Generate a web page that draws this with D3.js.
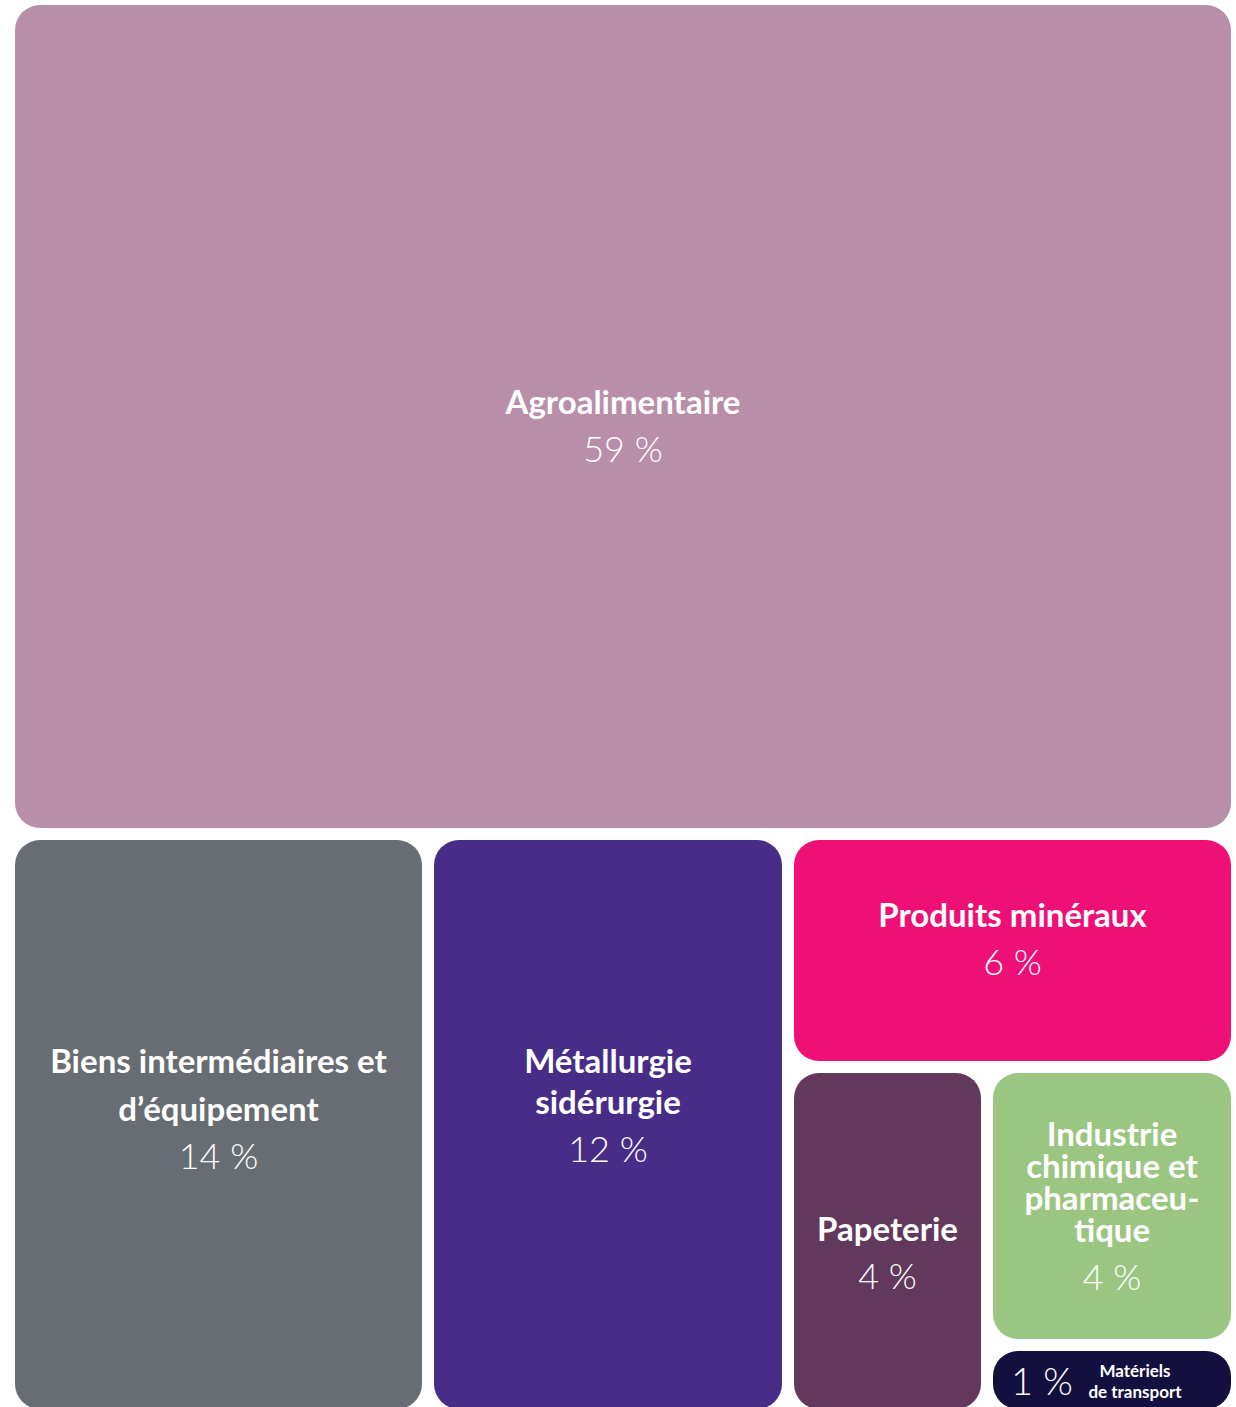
<!DOCTYPE html>
<html lang="fr">
<head>
  <meta charset="utf-8">
  <title>Répartition par secteur</title>
  <style>
    body { margin: 0; background: #fff; }
    svg { display: block; }
    text { font-family: "Source Sans Pro", Lato, "Noto Sans", sans-serif; fill: #fff; }
    .lab { font-weight: 700; }
    .pct { font-weight: 300; }
  </style>
  <script src="https://d3js.org/d3.v7.min.js"></script>
</head>
<body>
<script>
  // secteurs, parts (%) et couleurs
  let sectors = ["Agroalimentaire", "Biens intermédiaires et d’équipement", "Métallurgie sidérurgie",
                 "Produits minéraux", "Papeterie", "Industrie chimique et pharmaceutique", "Matériels de transport"]
  let shares = [59, 14, 12, 6, 4, 4, 1]
  let colors = ["#b98ea9", "#676d73", "#482d88", "#ee0f77", "#62385c", "#9ac682", "#13103f"]
  // lignes des étiquettes telles qu'affichées
  let labelLines = [
    ["Agroalimentaire"],
    ["Biens intermédiaires et", "d’équipement"],
    ["Métallurgie", "sidérurgie"],
    ["Produits minéraux"],
    ["Papeterie"],
    ["Industrie", "chimique et", "pharmaceu-", "tique"],
    ["Matériels", "de transport"]
  ]

  let width = 1236
  let height = 1407

  // réglages d'affichage par secteur (interligne, décalage vertical)
  let lineHeight = [48, 48, 41, 48, 48, 32, 21]
  let shiftY = [-3, -52, -52, -24, 0, -60, 0]

  let leaf = i => ({ name: sectors[i], value: shares[i], idx: i })
  let tree = {
    children: [
      leaf(0),
      { children: [
          leaf(1), leaf(2),
          { children: [
              leaf(3),
              { children: [
                  leaf(4),
                  { children: [leaf(5), leaf(6)] }
              ] }
          ] }
      ] }
    ]
  }

  let root = d3.hierarchy(tree).sum(d => d.value || 0)

  // tranches horizontales / verticales en alternance
  let tile = (node, x0, y0, x1, y1) => {
    if (node.depth % 2 === 0) d3.treemapSlice(node, x0, y0, x1, y1)
    else d3.treemapDice(node, x0, y0, x1, y1)
  }

  d3.treemap()
    .tile(tile)
    .size([1216, 1404])
    .paddingInner(12)
    .round(true)(root)

  let svg = d3.select("body").append("svg")
    .attr("width", width)
    .attr("height", height)

  let g = svg.append("g").attr("transform", "translate(15,5)")

  let leaves = root.leaves()

  let cell = g.selectAll("g.cell")
    .data(leaves)
    .join("g")
    .attr("class", "cell")

  cell.append("rect")
    .attr("x", d => d.x0)
    .attr("y", d => d.y0)
    .attr("width", d => d.x1 - d.x0)
    .attr("height", d => d.y1 - d.y0)
    .attr("rx", 25)
    .attr("fill", d => colors[d.data.idx])

  cell.each(function (d) {
    let i = d.data.idx
    let sel = d3.select(this)
    let cx = (d.x0 + d.x1) / 2
    let cy = (d.y0 + d.y1) / 2
    if (i === 6) {
      // petite case : pourcentage à gauche, libellé à droite
      sel.append("text").attr("class", "pct")
        .attr("x", d.x0 + 18).attr("y", cy + 15)
        .attr("font-size", 38)
        .text(shares[i] + " %")
      labelLines[i].forEach((l, k) => {
        sel.append("text").attr("class", "lab")
          .attr("x", cx + 23).attr("y", cy - 3 + k * lineHeight[i])
          .attr("text-anchor", "middle")
          .attr("font-size", 17)
          .text(l)
      })
      return
    }
    labelLines[i].forEach((l, k) => {
      sel.append("text").attr("class", "lab")
        .attr("x", cx)
        .attr("y", cy + shiftY[i] + k * lineHeight[i])
        .attr("text-anchor", "middle")
        .attr("font-size", 33)
        .text(l)
    })
    let n = labelLines[i].length
    sel.append("text").attr("class", "pct")
      .attr("x", cx)
      .attr("y", cy + shiftY[i] + (n - 1) * lineHeight[i] + 48)
      .attr("text-anchor", "middle")
      .attr("font-size", 36)
      .text(shares[i] + " %")
  })
</script>
</body>
</html>
